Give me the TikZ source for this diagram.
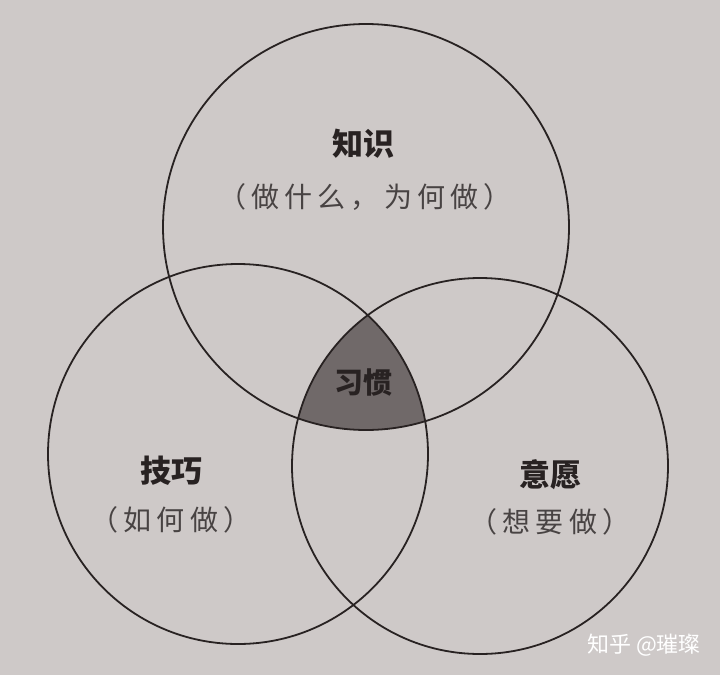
\documentclass[tikz,border=0pt]{standalone}
\usepackage{fontspec}
\newfontfamily\cjk{Noto Sans CJK SC}
\definecolor{paper}{RGB}{206,201,200}
\definecolor{ink}{RGB}{40,34,34}
\definecolor{habit}{RGB}{112,105,105}

\begin{document}
\begin{tikzpicture}[x=1pt,y=-1pt]
\tikzstyle{every node}+=[inner sep=0pt]
\tikzstyle{ring}=[draw=ink,line width=1.8pt]
\tikzstyle{head}=[text=ink,font=\cjk\bfseries\fontsize{31}{31}\selectfont]
\tikzstyle{sub}=[text=ink!85,font=\cjk\fontsize{28}{28}\selectfont\addfontfeature{LetterSpace=18}]
\tikzstyle{wmtext}=[font=\cjk\fontsize{22}{22}\selectfont]
\useasboundingbox (0,0) rectangle (720,675);
\fill [paper] (0,0) rectangle (720,675);
\coordinate (zhishi) at (366,227);
\coordinate (jiqiao) at (238,454);
\coordinate (yiyuan) at (480,466);
\begin{scope}
\clip (zhishi) circle (203pt);
\clip (jiqiao) circle (190pt);
\fill [habit] (yiyuan) circle (188pt);
\end{scope}
\draw [ring] (zhishi) circle (203pt);
\draw [ring] (jiqiao) circle (190pt);
\draw [ring] (yiyuan) circle (188pt);
\node [head] (zhishiT) at (363,144) {知识};
\node [sub] (zhishiS) at (365,197) {（做什么，为何做）};
\node [head] (jiqiaoT) at (171,471) {技巧};
\node [sub] (jiqiaoS) at (171,520) {（如何做）};
\node [head] (yiyuanT) at (550,475) {意愿};
\node [sub] (yiyuanS) at (550,522) {（想要做）};
\node [head,font=\cjk\bfseries\fontsize{29}{29}\selectfont] (xiguan) at (363,383) {习惯};
\node [wmtext,text=white] (wm) at (644,645) {知乎 @璀璨};
\end{tikzpicture}
\end{document}
